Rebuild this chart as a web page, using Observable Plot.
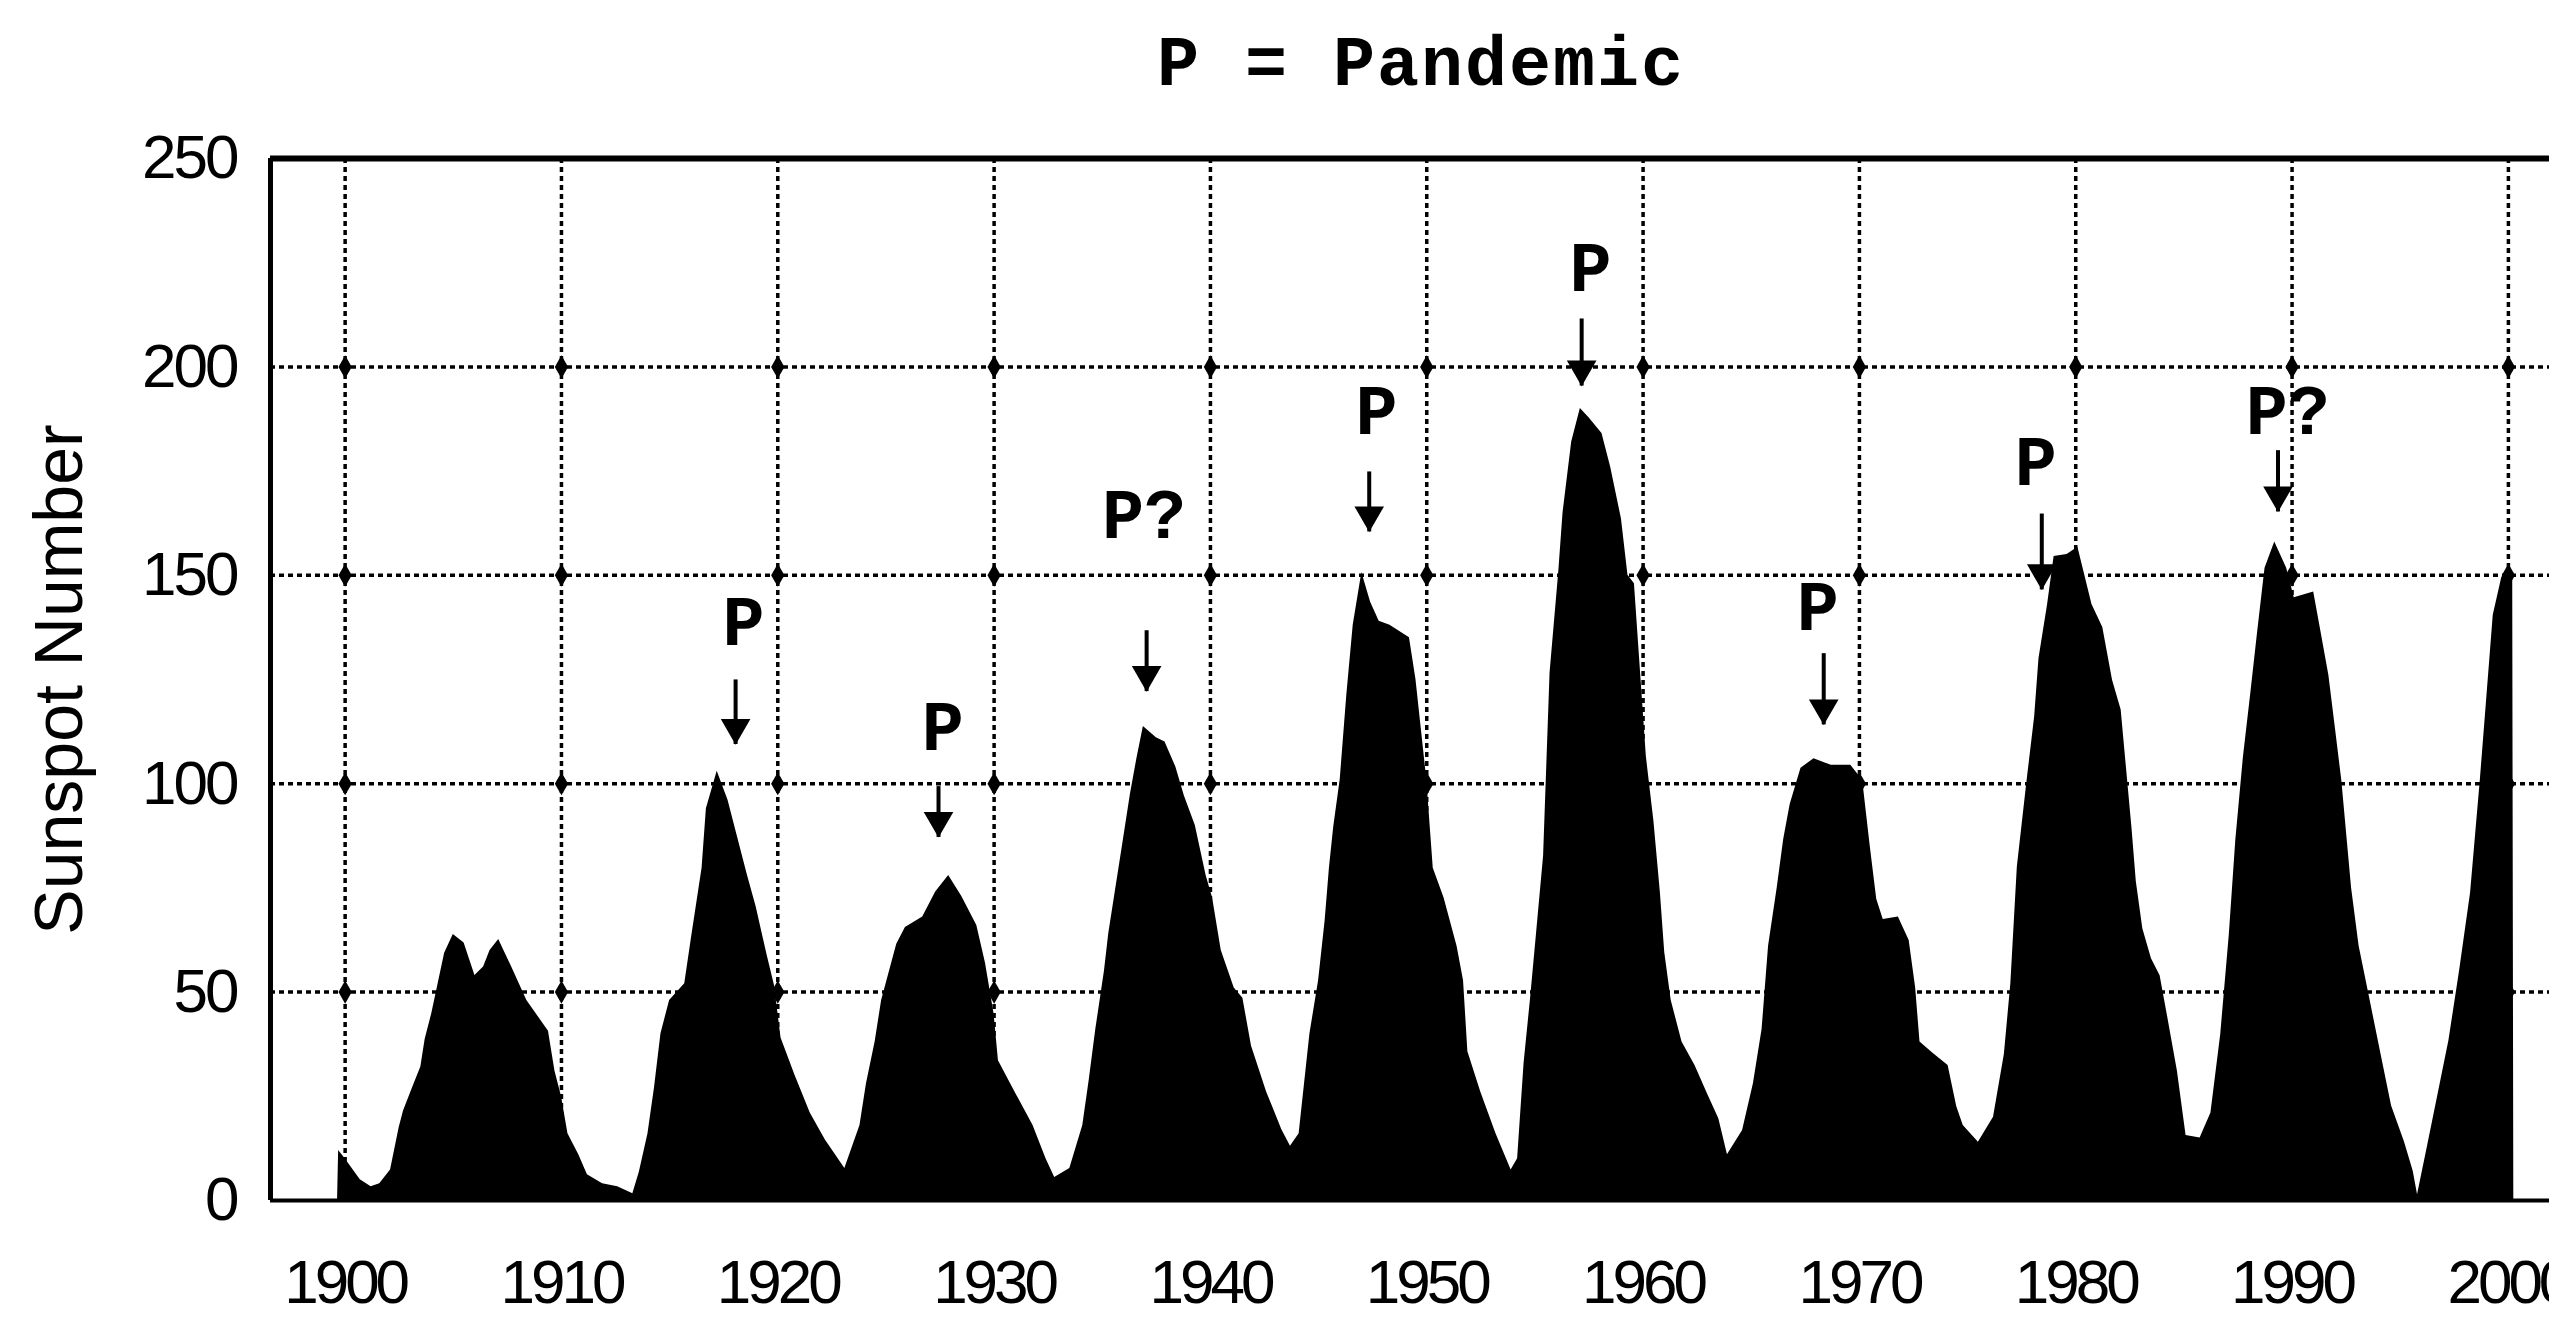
<!DOCTYPE html>
<html>
<head>
<meta charset="utf-8">
<script src="https://cdn.jsdelivr.net/npm/d3@7"></script>
<script src="https://cdn.jsdelivr.net/npm/@observablehq/plot@0.6"></script>
<style>
  html, body { margin: 0; padding: 0; background: #fff; overflow: hidden; }
  #wrap { position: relative; width: 2549px; height: 1319px; }
  #title { position: absolute; top: 32px; left: 1421px; transform: translateX(-50%);
           font: bold 70px "Liberation Mono", "DejaVu Sans Mono", monospace; line-height: 70px;
           letter-spacing: 2px; white-space: pre; color: #000; }
  #chart { position: absolute; top: 120px; left: 0; }
  #chart svg { display: block; }
  g[aria-label="x-axis tick label"] text { letter-spacing: -4px; }
  g[aria-label="y-axis tick label"] text { letter-spacing: -3px; }
</style>
</head>
<body>
<div id="wrap">
  <div id="title">P = Pandemic</div>
  <div id="chart"></div>
</div>
<script>
// ---- data ----
const years = [
  1899.65, 1899.7, 1900.0, 1900.7, 1901.2, 1901.6, 1902.1, 1902.5, 1902.7, 1903.1, 1903.5, 1903.7,
  1904.0, 1904.3, 1904.6, 1905.0, 1905.5, 1906.0, 1906.4, 1906.7, 1907.1, 1907.7, 1908.4, 1909.4,
  1909.7, 1910.0, 1910.3, 1910.8, 1911.2, 1911.9, 1912.6, 1913.3, 1913.6, 1914.0, 1914.3, 1914.6,
  1915.0, 1915.7, 1916.0, 1916.5, 1916.7, 1917.2, 1917.7, 1918.1, 1918.6, 1919.0, 1919.5, 1919.85,
  1920.15, 1920.8, 1921.5, 1922.2, 1923.1, 1923.8, 1924.1, 1924.5, 1924.8, 1925.5, 1925.9, 1926.7,
  1927.3, 1927.9, 1928.5, 1929.2, 1929.6, 1930.0, 1930.2, 1931.0, 1931.8, 1932.4, 1932.8, 1933.5,
  1934.1, 1934.4, 1934.7, 1935.1, 1935.3, 1935.6, 1935.9, 1936.3, 1936.6, 1936.9, 1937.5, 1937.9,
  1938.4, 1938.8, 1939.3, 1939.8, 1940.1, 1940.5, 1941.1, 1941.5, 1941.9, 1942.6, 1943.3, 1943.7,
  1944.1, 1944.6, 1945.0, 1945.3, 1945.5, 1945.7, 1946.0, 1946.3, 1946.6, 1947.0, 1947.4, 1947.8,
  1948.3, 1949.2, 1949.5, 1950.0, 1950.3, 1950.8, 1951.4, 1951.7, 1951.9, 1952.5, 1953.2, 1953.9,
  1954.2, 1954.5, 1954.8, 1955.1, 1955.4, 1955.7, 1956.1, 1956.3, 1956.7, 1957.1, 1957.5, 1958.1,
  1958.5, 1959.0, 1959.3, 1959.6, 1960.15, 1960.5, 1960.8, 1961.0, 1961.3, 1961.8, 1962.4, 1963.0,
  1963.5, 1963.9, 1964.6, 1965.1, 1965.5, 1965.8, 1966.2, 1966.5, 1966.8, 1967.3, 1967.9, 1968.7,
  1969.6, 1970.15, 1970.5, 1970.8, 1971.1, 1971.8, 1972.3, 1972.6, 1972.8, 1973.4, 1974.1, 1974.5,
  1974.8, 1975.5, 1976.2, 1976.7, 1977.0, 1977.3, 1977.75, 1978.1, 1978.3, 1978.7, 1979.0, 1979.6,
  1980.1, 1980.75, 1981.25, 1981.7, 1982.1, 1982.3, 1982.6, 1982.8, 1983.1, 1983.5, 1983.9, 1984.25,
  1984.7, 1985.1, 1985.75, 1986.25, 1986.7, 1987.1, 1987.4, 1987.75, 1988.1, 1988.4, 1988.75, 1989.2,
  1989.75, 1990.1, 1991.0, 1991.3, 1991.7, 1992.0, 1992.3, 1992.75, 1993.1, 1993.6, 1994.1, 1994.6,
  1995.2, 1995.6, 1995.8, 1996.25, 1996.75, 1997.25, 1997.75, 1998.25, 1998.7, 1999.0, 1999.3, 1999.7,
  2000.2, 2000.25
];
const sunspots = [
  0, 12, 10, 5, 3.3, 4, 7.3, 17.5, 21.5, 26.8, 32, 38.7,
  44.7, 52, 59.3, 63.8, 61.8, 54, 56, 60, 62.6, 56, 48, 40.6,
  31, 25, 16, 11, 6.2, 4, 3.3, 1.6, 6.8, 16, 27, 40,
  48, 52, 62.6, 79.7, 94, 103, 96, 88, 78, 70.5, 59, 51.5,
  39, 30, 21, 14.5, 7.7, 18, 28, 38, 48, 61.5, 65.5, 68,
  74, 78, 73, 66, 57, 44.7, 33.5, 25.7, 18, 10, 5.5, 7.7,
  18, 29, 41, 55, 64, 74, 84, 97.4, 106, 113.7, 111, 110,
  104, 97, 90, 78, 72.6, 60, 51, 48.5, 37, 26, 17, 13,
  16, 40, 52.7, 67, 79.7, 89.6, 101, 121, 138, 150.7, 143.6, 139,
  138, 135, 125, 101, 79.7, 72.6, 61, 52.7, 35.7, 26, 16, 7.3,
  10, 33, 48.5, 65.5, 82.6, 126.6, 150.7, 165, 182, 190, 187.8, 184,
  176, 163.5, 150, 148, 106.5, 91, 73.8, 59.5, 48, 38, 32.4, 25.3,
  19.6, 11, 16.8, 28, 41, 61, 75, 86.6, 95, 103.7, 106, 104.4,
  104.4, 100.8, 85, 72.3, 67.4, 68, 62.4, 51, 38, 35.3, 32.4, 22.5,
  18, 14, 20, 35, 52, 80, 100.7, 116, 130, 143, 154.5, 155,
  156.7, 143, 137.5, 124.8, 117.7, 106.3, 89.3, 76.5, 65.2, 58, 53.9, 44,
  31, 15.6, 15, 21, 39.7, 63.8, 86.5, 106.3, 122, 136, 151.7, 158,
  151.7, 144.6, 146, 137.5, 126, 113.4, 100.7, 75, 61, 48.2, 35.4, 22.7,
  14, 7, 1.4, 12.7, 25.5, 38.3, 55.3, 73.7, 100.7, 120.5, 140.4, 149.6,
  149.6, 0
];

const xTicks = [1900, 1910, 1920, 1930, 1940, 1950, 1960, 1970, 1980, 1990, 2000];
const xTickLabels = ["1900", "1910", "1920", "1930", "1940", "1950", "1960", "1970", "1980", "1990", "2000"];
const yTicks = [0, 50, 100, 150, 200, 250];
const yGrid = [50, 100, 150, 200];
const xDomain = [1896.55, 2001.9];
const yDomain = [0, 250];

// pandemic annotations
const pandemicLabels = ["P", "P", "P?", "P", "P", "P", "P", "P?"];
const labelYears  = [1918.42, 1927.62, 1936.93, 1947.68, 1957.57, 1968.07, 1978.15, 1989.8];
const labelLevels = [133.3, 108.2, 159, 183.9, 218.2, 136.9, 171.7, 183.9];
const arrowYears  = [1918.05, 1927.43, 1937.05, 1947.34, 1957.16, 1968.35, 1978.43, 1989.35];
const arrowTops   = [124.9, 99.3, 136.7, 174.8, 211.5, 131.2, 164.7, 179.9];
const arrowTips   = [109.4, 87.1, 122.1, 160.4, 195.4, 114.1, 146.5, 165.2];

const n = years.length;
const mono = "'Liberation Mono', 'DejaVu Sans Mono', monospace";

const chart = Plot.plot({
  width: 2549,
  height: 1199,
  marginLeft: 270,
  marginRight: 0,
  marginTop: 38,
  marginBottom: 119,
  x: {domain: xDomain},
  y: {domain: yDomain},
  style: {
    fontFamily: "'Liberation Sans', Arial, sans-serif",
    fontSize: "62px",
    background: "white",
    color: "black",
    overflow: "visible"
  },
  marks: [
    // dotted grid
    Plot.ruleX(xTicks, {stroke: "black", strokeWidth: 3.5, strokeDasharray: "5,4"}),
    Plot.ruleY(yGrid, {stroke: "black", strokeWidth: 3.5, strokeDasharray: "5,4"}),
    Plot.dot(d3.cross(xTicks, yGrid), {x: d => d[0], y: d => d[1], symbol: "diamond", r: 7, fill: "black"}),
    // sunspot area
    Plot.areaY({length: n}, {x: years, y: sunspots, fill: "black", curve: "linear"}),
    // frame lines
    Plot.ruleY([yDomain[1]], {stroke: "black", strokeWidth: 6}),
    Plot.ruleY([yDomain[0]], {stroke: "black", strokeWidth: 4}),
    Plot.ruleX([xDomain[0]], {stroke: "black", strokeWidth: 5}),
    // axes
    Plot.axisX(xTicks, {tickSize: 0, tickPadding: 58, tickFormat: (d, i) => xTickLabels[i], fontSize: 62, label: null}),
    Plot.axisY(yTicks, {tickSize: 0, tickPadding: 34, tickFormat: d => String(d), fontSize: 62, label: null}),
    Plot.text(["Sunspot Number"], {frameAnchor: "left", textAnchor: "middle", dx: -210, rotate: -90, fontSize: 68, fill: "black"}),
    // pandemic arrows and labels
    Plot.ruleX({length: arrowYears.length}, {x: arrowYears, y1: arrowTops, y2: arrowTips, stroke: "black", strokeWidth: 4}),
    Plot.dot({length: arrowYears.length}, {x: arrowYears, y: arrowTips, symbol: "triangle", rotate: 180, r: 11, fill: "black", dy: -17}),
    Plot.text({length: pandemicLabels.length}, {
      x: labelYears, y: labelLevels, text: pandemicLabels,
      lineAnchor: "bottom", fontFamily: mono, fontWeight: "bold", fontSize: 70, fill: "black"
    })
  ]
});
document.getElementById("chart").appendChild(chart);
</script>
</body>
</html>
